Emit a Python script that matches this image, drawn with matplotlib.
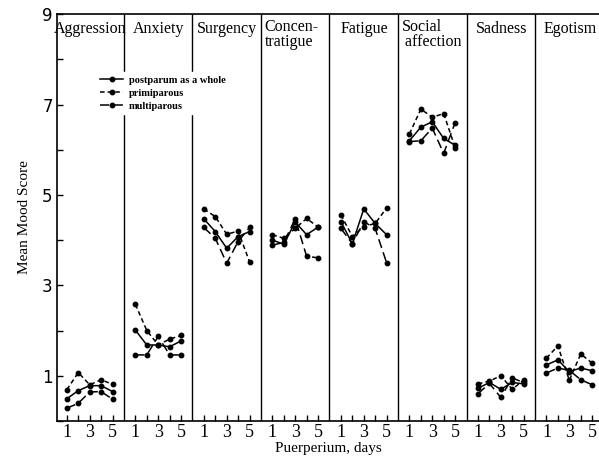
import numpy as np
import matplotlib.pyplot as plt

# mood scales (one panel each) and puerperium days
scales = ["Aggression", "Anxiety", "Surgency", "Concen-\ntratigue", "Fatigue",
          "Social\n affection", "Sadness", "Egotism"]
days = [1, 2, 3, 4, 5]

# mean mood scores, one row per scale
whole = [
    [0.49, 0.67, 0.78, 0.78, 0.65],
    [2.01, 1.68, 1.68, 1.64, 1.77],
    [4.47, 4.19, 3.82, 4.08, 4.19],
    [4.00, 3.91, 4.40, 4.12, 4.29],
    [4.41, 3.92, 4.69, 4.37, 4.12],
    [6.20, 6.50, 6.62, 6.25, 6.10],
    [0.72, 0.85, 0.70, 0.85, 0.82],
    [1.24, 1.35, 1.09, 1.17, 1.11],
]
primi = [
    [0.69, 1.07, 0.80, 0.91, 0.81],
    [2.58, 2.00, 1.68, 1.81, 1.89],
    [4.69, 4.52, 4.13, 4.20, 3.52],
    [4.12, 4.04, 4.26, 4.48, 4.29],
    [4.56, 4.08, 4.30, 4.37, 4.71],
    [6.35, 6.90, 6.72, 6.80, 6.05],
    [0.82, 0.88, 1.00, 0.70, 0.90],
    [1.39, 1.66, 0.90, 1.48, 1.28],
]
multi = [
    [0.28, 0.39, 0.64, 0.65, 0.48],
    [1.46, 1.46, 1.87, 1.46, 1.46],
    [4.28, 4.04, 3.49, 3.97, 4.28],
    [3.89, 3.95, 4.47, 3.64, 3.61],
    [4.26, 3.92, 4.41, 4.26, 3.50],
    [6.18, 6.20, 6.48, 5.92, 6.60],
    [0.60, 0.83, 0.52, 0.95, 0.85],
    [1.06, 1.17, 1.12, 0.91, 0.80],
]

serif = "Liberation Serif"

fig = plt.figure(figsize=(5.99, 4.58), dpi=100)
ax = fig.add_axes([0.095, 0.081, 0.905, 0.888])

lw = 1.1
ms = 3.2
for k in range(len(scales)):
    x = 6 * k + np.array(days)
    l1, = ax.plot(x, whole[k], color="black", lw=lw, marker="o", ms=ms, ls="-")
    l2, = ax.plot(x, primi[k], color="black", lw=lw, marker="o", ms=ms, ls=(0, (3, 2)))
    l3, = ax.plot(x, multi[k], color="black", lw=lw, marker="o", ms=ms, ls=(0, (6, 3)))
    if k > 0:
        ax.axvline(6 * k, color="black", lw=1.0, zorder=1)
    if k in (3, 5):
        ax.text(6 * k + 0.3, 8.9, scales[k], ha="left", va="top",
                fontsize=11.5, family=serif, linespacing=0.95)
    else:
        ax.text(6 * k + 3.05, 8.85, scales[k], ha="center", va="top",
                fontsize=11.5, family=serif)

ax.set_xlim(0.13, 47.6)
ax.set_ylim(0, 9)

ticks = [6 * k + d for k in range(len(scales)) for d in days]
labels = [str(d) if d % 2 == 1 else "" for k in range(len(scales)) for d in days]
ax.set_xticks(ticks)
ax.set_xticklabels(labels, fontsize=13, family=serif)
ax.set_yticks(range(0, 10))
ax.set_yticklabels([str(v) if v % 2 == 1 else "" for v in range(0, 10)], fontsize=12)
ax.tick_params(direction="in", length=4, width=1, pad=3)
ax.tick_params(axis="x", pad=2)
ax.spines["right"].set_visible(False)
for s in ["left", "bottom", "top"]:
    ax.spines[s].set_linewidth(1.2)

ax.set_xlabel("Puerperium, days", family=serif, fontsize=11, labelpad=1)
ax.set_ylabel("Mean Mood Score", family=serif, fontsize=11, labelpad=8)

leg = ax.legend([l1, l2, l3], ["postparum as a whole", "primiparous", "multiparous"],
                loc="upper left", bbox_to_anchor=(0.065, 0.87),
                prop={"family": serif, "weight": "bold", "size": 7.5},
                handlelength=2.2, handletextpad=0.5, labelspacing=0.35,
                borderpad=0.3, frameon=True, fancybox=False)
leg.get_frame().set_edgecolor("white")
leg.get_frame().set_facecolor("white")
leg.get_frame().set_alpha(1)

fig.savefig("out.png", dpi=100)
